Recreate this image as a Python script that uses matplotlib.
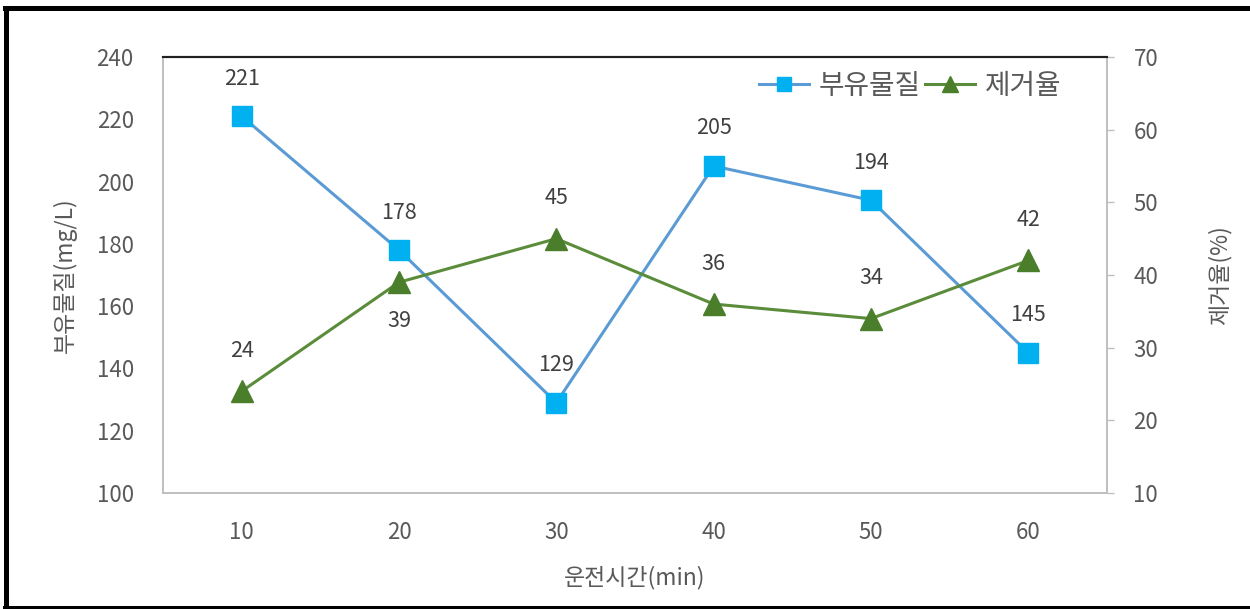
import matplotlib
matplotlib.use("Agg")
import matplotlib.pyplot as plt
from matplotlib.lines import Line2D

plt.rcParams['font.family'] = ['Noto Sans CJK KR', 'DejaVu Sans']

# data
times = [10, 20, 30, 40, 50, 60]
solids = [221, 178, 129, 205, 194, 145]          # 부유물질 (mg/L)
removal = [24, 39, 45, 36, 34, 42]               # 제거율 (%)
removal_label_below = [False, True, False, False, False, False]

left_ticks = [100, 120, 140, 160, 180, 200, 220, 240]
right_ticks = [10, 20, 30, 40, 50, 60, 70]

W, H = 1250, 609
fig = plt.figure(figsize=(W / 100, H / 100), dpi=100)
ax = fig.add_axes([163 / W, 1 - 493 / H, (1107 - 163) / W, (493 - 57) / H])
ax2 = ax.twinx()

blue_line = '#5B9BD5'
blue_mark = '#00B0F0'
green_line = '#5B8C3A'
green_mark = '#4A7E2A'
txt = '#595959'
grey = '#BFBFBF'

l1, = ax.plot(times, solids, color=blue_line, lw=2.2, marker='s', ms=14,
              mfc=blue_mark, mec=blue_mark, label='부유물질', zorder=3)
l2, = ax2.plot(times, removal, color=green_line, lw=2.2, marker='^', ms=16,
               mfc=green_mark, mec=green_mark, label='제거율', zorder=3)

for x, v in zip(times, solids):
    ax.annotate(f'{v}', (x, v), xytext=(0, 27), textcoords='offset points',
                ha='center', va='center', fontsize=15.5, color='#404040')
for x, v, below in zip(times, removal, removal_label_below):
    ax2.annotate(f'{v}', (x, v), xytext=(0, -28 if below else 29),
                 textcoords='offset points', ha='center', va='center',
                 fontsize=15.5, color='#404040')

ax.set_xlim(5, 65)
ax.set_ylim(100, 240)
ax2.set_ylim(10, 70)
ax.set_xticks(times)
ax.set_yticks(left_ticks)
ax2.set_yticks(right_ticks)

ax.tick_params(axis='x', length=0, pad=20, labelsize=16, labelcolor=txt)
ax.tick_params(axis='y', length=0, pad=21, labelsize=16, labelcolor=txt)
ax2.tick_params(axis='y', length=5, width=1, color=grey, pad=14,
                labelsize=16, labelcolor=txt)

for a in (ax, ax2):
    for s in ('left', 'right', 'bottom'):
        a.spines[s].set_color(grey)
        a.spines[s].set_linewidth(1.2)
    a.spines['top'].set_color('#202020')
    a.spines['top'].set_linewidth(1.5)

ax.set_xlabel('운전시간(min)', fontsize=16.5, color=txt, labelpad=16)
ax.set_ylabel('부유물질(mg/L)', fontsize=16.5, color=txt, labelpad=14)
ax2.set_ylabel('제거율(%)', fontsize=16.5, color=txt, rotation=90, labelpad=36)

ax.legend(handles=[l1, l2], loc='upper right', bbox_to_anchor=(0.978, 1.025),
          ncol=2, frameon=False, fontsize=20, handlelength=1.8,
          handletextpad=0.35, columnspacing=0.15, labelcolor=txt,
          markerscale=0.7)

# outer frame
for xs, ys in [((5 / W, 1), (1 - 8 / H, 1 - 8 / H)),
               ((5.5 / W, 5.5 / W), (1 - 8 / H, 0)),
               ((5 / W, 1), (1.5 / H, 1.5 / H))]:
    fig.add_artist(Line2D(xs, ys, transform=fig.transFigure,
                          color='black', lw=3.6))

fig.savefig('out.png', dpi=100)
